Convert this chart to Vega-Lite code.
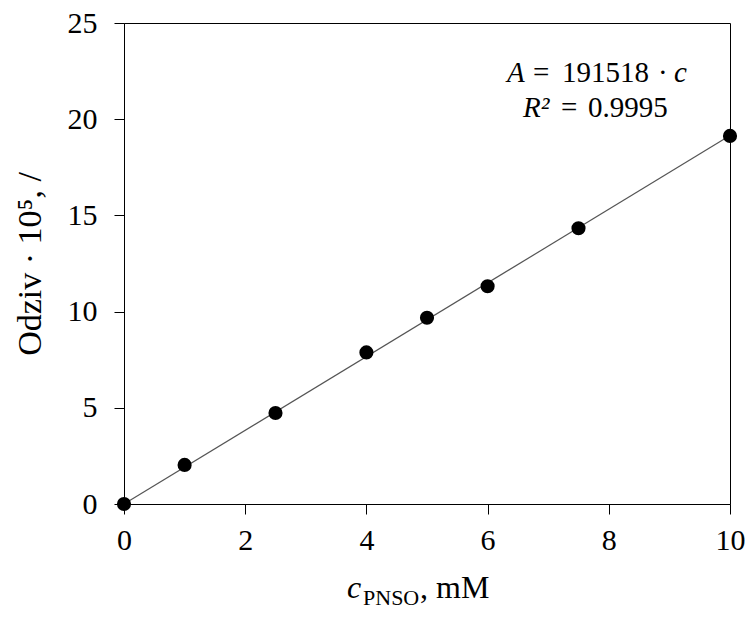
{
  "$schema": "https://vega.github.io/schema/vega-lite/v6.json",
  "width": 606,
  "height": 481,
  "autosize": {"type": "none"},
  "padding": {"left": 124, "top": 23, "right": 18, "bottom": 115},
  "background": "white",
  "config": {
    "view": {"stroke": "black", "strokeWidth": 1},
    "axis": {
      "grid": false,
      "domainColor": "black",
      "tickColor": "black",
      "tickSize": 10,
      "labelFont": "Liberation Serif",
      "labelFontSize": 30,
      "labelColor": "black",
      "labelFlush": false,
      "titleFont": "Liberation Serif",
      "titleFontSize": 34,
      "titleFontWeight": "normal",
      "titleColor": "black"
    }
  },
  "datasets": {
    "points": [
      {"c": 0, "A": 0.0},
      {"c": 1, "A": 2.03},
      {"c": 2.5, "A": 4.73},
      {"c": 4, "A": 7.88},
      {"c": 5, "A": 9.68},
      {"c": 6, "A": 11.32},
      {"c": 7.5, "A": 14.33},
      {"c": 10, "A": 19.13}
    ],
    "fit": [{"c": 0, "A": 0}, {"c": 10, "A": 19.15}],
    "anno": [
      {"label": "A", "line": 1},
      {"label": "=", "line": 1},
      {"label": "191518", "line": 1},
      {"label": "·", "line": 1},
      {"label": "c", "line": 1},
      {"label": "R²", "line": 2},
      {"label": "=", "line": 2},
      {"label": "0.9995", "line": 2},
      {"label": "c", "line": 3},
      {"label": "PNSO", "line": 3},
      {"label": ", mM", "line": 3}
    ]
  },
  "layer": [
    {
      "data": {"name": "fit"},
      "mark": {"type": "line", "color": "#555555", "strokeWidth": 1.2},
      "encoding": {
        "x": {"field": "c", "type": "quantitative", "scale": {"domain": [0, 10], "nice": false},
          "axis": {"values": [0, 2, 4, 6, 8, 10], "format": "d", "title": null, "labelPadding": 11}},
        "y": {"field": "A", "type": "quantitative", "scale": {"domain": [0, 25], "nice": false},
          "axis": {"values": [0, 5, 10, 15, 20, 25], "format": "d", "title": "Odziv · 10⁵, /", "labelPadding": 17, "titlePadding": 20}}
      }
    },
    {
      "data": {"name": "points"},
      "mark": {"type": "point", "filled": true, "color": "black", "opacity": 1, "size": 200},
      "encoding": {
        "x": {"field": "c", "type": "quantitative"},
        "y": {"field": "A", "type": "quantitative"}
      }
    },
    {
      "data": {"name": "anno"},
      "transform": [{"filter": "datum.line == 1 && datum.label == 'A'"}],
      "mark": {"type": "text", "font": "Liberation Serif", "color": "black", "fontStyle": "italic", "fontSize": 29, "align": "left", "baseline": "alphabetic", "dx": 0},
      "encoding": {"x": {"datum": 6.32}, "y": {"datum": 21.93}, "text": {"field": "label"}}
    },
    {
      "data": {"name": "anno"},
      "transform": [{"filter": "datum.line == 1 && datum.label == '='"}],
      "mark": {"type": "text", "font": "Liberation Serif", "color": "black", "fontSize": 29, "align": "left", "baseline": "alphabetic", "dx": 26},
      "encoding": {"x": {"datum": 6.32}, "y": {"datum": 21.93}, "text": {"field": "label"}}
    },
    {
      "data": {"name": "anno"},
      "transform": [{"filter": "datum.line == 1 && datum.label == '191518'"}],
      "mark": {"type": "text", "font": "Liberation Serif", "color": "black", "fontSize": 29, "align": "left", "baseline": "alphabetic", "dx": 55},
      "encoding": {"x": {"datum": 6.32}, "y": {"datum": 21.93}, "text": {"field": "label"}}
    },
    {
      "data": {"name": "anno"},
      "transform": [{"filter": "datum.line == 1 && datum.label == '·'"}],
      "mark": {"type": "text", "font": "Liberation Serif", "color": "black", "fontSize": 29, "align": "left", "baseline": "alphabetic", "dx": 151},
      "encoding": {"x": {"datum": 6.32}, "y": {"datum": 21.93}, "text": {"field": "label"}}
    },
    {
      "data": {"name": "anno"},
      "transform": [{"filter": "datum.line == 1 && datum.label == 'c'"}],
      "mark": {"type": "text", "font": "Liberation Serif", "color": "black", "fontStyle": "italic", "fontSize": 29, "align": "left", "baseline": "alphabetic", "dx": 167},
      "encoding": {"x": {"datum": 6.32}, "y": {"datum": 21.93}, "text": {"field": "label"}}
    },
    {
      "data": {"name": "anno"},
      "transform": [{"filter": "datum.line == 2 && datum.label == 'R²'"}],
      "mark": {"type": "text", "font": "Liberation Serif", "color": "black", "fontStyle": "italic", "fontSize": 29, "align": "left", "baseline": "alphabetic", "dx": 16},
      "encoding": {"x": {"datum": 6.32}, "y": {"datum": 20.11}, "text": {"field": "label"}}
    },
    {
      "data": {"name": "anno"},
      "transform": [{"filter": "datum.line == 2 && datum.label == '='"}],
      "mark": {"type": "text", "font": "Liberation Serif", "color": "black", "fontSize": 29, "align": "left", "baseline": "alphabetic", "dx": 54},
      "encoding": {"x": {"datum": 6.32}, "y": {"datum": 20.11}, "text": {"field": "label"}}
    },
    {
      "data": {"name": "anno"},
      "transform": [{"filter": "datum.line == 2 && datum.label == '0.9995'"}],
      "mark": {"type": "text", "font": "Liberation Serif", "color": "black", "fontSize": 29, "align": "left", "baseline": "alphabetic", "dx": 81},
      "encoding": {"x": {"datum": 6.32}, "y": {"datum": 20.11}, "text": {"field": "label"}}
    },
    {
      "data": {"name": "anno"},
      "transform": [{"filter": "datum.line == 3 && datum.label == 'c'"}],
      "mark": {"type": "text", "font": "Liberation Serif", "color": "black", "fontStyle": "italic", "fontSize": 32, "align": "left", "baseline": "alphabetic", "dx": 0},
      "encoding": {"x": {"datum": 3.68}, "y": {"datum": -4.886}, "text": {"field": "label"}}
    },
    {
      "data": {"name": "anno"},
      "transform": [{"filter": "datum.line == 3 && datum.label == 'PNSO'"}],
      "mark": {"type": "text", "font": "Liberation Serif", "color": "black", "fontSize": 22, "align": "left", "baseline": "alphabetic", "dx": 16, "dy": 7},
      "encoding": {"x": {"datum": 3.68}, "y": {"datum": -4.886}, "text": {"field": "label"}}
    },
    {
      "data": {"name": "anno"},
      "transform": [{"filter": "datum.line == 3 && datum.label == ', mM'"}],
      "mark": {"type": "text", "font": "Liberation Serif", "color": "black", "fontSize": 32, "align": "left", "baseline": "alphabetic", "dx": 73},
      "encoding": {"x": {"datum": 3.68}, "y": {"datum": -4.886}, "text": {"field": "label"}}
    }
  ]
}
